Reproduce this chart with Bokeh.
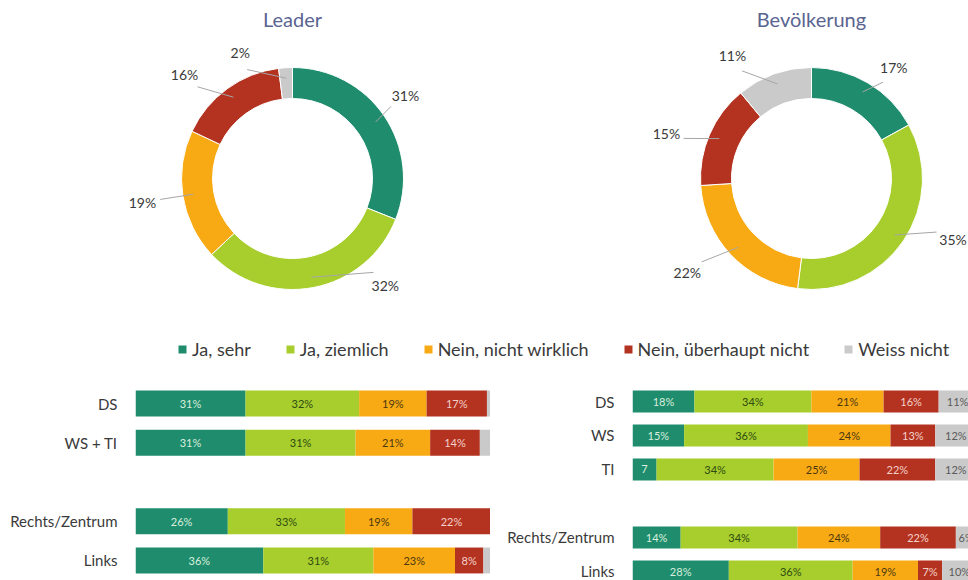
import math
from bokeh.plotting import figure
from bokeh.layouts import column, row
from bokeh.models import Range1d, ColumnDataSource, Legend, LegendItem, FixedTicker
from bokeh.core.properties import value
from bokeh.embed import file_html
from bokeh.resources import INLINE

# ---------------- data ----------------
series = ["Ja, sehr", "Ja, ziemlich", "Nein, nicht wirklich", "Nein, überhaupt nicht", "Weiss nicht"]

leader_donut = [31, 32, 19, 16, 2]
bev_donut = [17, 35, 22, 15, 11]

left_cats = ["DS", "WS + TI", "Rechts/Zentrum", "Links"]
left_ja_sehr = [31, 31, 26, 36]
left_ja_ziemlich = [32, 31, 33, 31]
left_nein_nicht = [19, 21, 19, 23]
left_nein_ueberhaupt = [17, 14, 22, 8]
left_weiss_nicht = [1, 3, 0, 2]

right_cats = ["DS", "WS", "TI", "Rechts/Zentrum", "Links"]
right_ja_sehr = [18, 15, 7, 14, 28]
right_ja_ziemlich = [34, 36, 34, 34, 36]
right_nein_nicht = [21, 24, 25, 24, 19]
right_nein_ueberhaupt = [16, 13, 22, 22, 7]
right_weiss_nicht = [11, 12, 12, 6, 10]

# ---------------- style ----------------
FONT = "Lato"
colors = ["#1f8d6d", "#a7ce2c", "#f8aa14", "#b43320", "#cacaca"]
bar_text_colors = ["#d9eedd", "#2f4b12", "#4d3810", "#f3d0c9", "#5a5a5a"]
title_color = "#5a6490"
label_color = "#3a3a3a"

left_rows = [0, 1, 3, 4]
right_rows = [0, 1, 2, 4, 5]

R_IN, R_OUT = 80, 111
leader_nudge = [2, 30, 0, 10, 19]
bev_nudge = [-6, 11, -6, 6, 13]
leader_lab_r = [140, 142, 152, 150, 136]
bev_lab_r = [138, 154, 156, 152, 146]

DONUT_H = 330


def donut(values, title, width, cx_off, nudge, lab_r):
    h = DONUT_H
    cy_off = 178
    p = figure(width=width, height=h, output_backend="svg", toolbar_location=None,
               x_range=Range1d(-cx_off, width - cx_off), y_range=Range1d(-(h - cy_off), cy_off),
               x_axis_type=None, y_axis_type=None, min_border=0, outline_line_color=None)
    p.grid.visible = False
    total = float(sum(values))
    cum = 0.0
    starts, ends, mids = [], [], []
    for v in values:
        a0 = math.pi / 2 - 2 * math.pi * cum / total
        cum += v
        a1 = math.pi / 2 - 2 * math.pi * cum / total
        starts.append(a0)
        ends.append(a1)
        mids.append((a0 + a1) / 2)
    src = ColumnDataSource(dict(start=starts, end=ends, color=colors))
    p.annular_wedge(x=0, y=0, inner_radius=R_IN, outer_radius=R_OUT, start_angle="start",
                    end_angle="end", direction="clock", fill_color="color",
                    line_color="white", line_width=1, source=src)
    lx, ly, x0, y0, x1, y1, txt = [], [], [], [], [], [], []
    for m, v, nd, rl in zip(mids, values, nudge, lab_r):
        la = m + math.radians(nd)
        lx.append(rl * math.cos(la))
        ly.append(rl * math.sin(la))
        rm = (R_IN + R_OUT) / 2 + 5
        x0.append(rm * math.cos(m))
        y0.append(rm * math.sin(m))
        re = rl - 18
        x1.append(re * math.cos(la))
        y1.append(re * math.sin(la))
        txt.append(f"{v}%")
    p.segment(x0=x0, y0=y0, x1=x1, y1=y1, line_color="#a6a6a6", line_width=1)
    p.text(x=lx, y=ly, text=txt, text_align="center", text_baseline="middle",
           text_font=value(FONT), text_font_size="14px", text_color=label_color)
    p.text(x=[0], y=[cy_off - 18], text=[title], text_align="center", text_baseline="middle",
           text_font=value(FONT), text_font_size="20px", text_color=title_color)
    return p


def bars(cats, rows, vals, width, border_left, xmax, yr, bar_h, hide):
    p = figure(width=width, height=208, output_backend="svg", toolbar_location=None,
               x_range=Range1d(0, xmax), y_range=Range1d(*yr), x_axis_type=None,
               min_border_left=border_left, min_border_right=0, min_border_top=0,
               min_border_bottom=0, outline_line_color=None)
    p.grid.visible = False
    ax = p.yaxis[0]
    ax.ticker = FixedTicker(ticks=rows)
    ax.major_label_overrides = {r: c for r, c in zip(rows, cats)}
    ax.axis_line_color = None
    ax.major_tick_line_color = None
    ax.minor_tick_line_color = None
    ax.major_label_standoff = 12
    ax.major_label_text_font = FONT
    ax.major_label_text_font_size = "15px"
    ax.major_label_text_color = label_color
    cum = [0.0] * len(cats)
    for si, sv in enumerate(vals):
        left = list(cum)
        right = [a + b for a, b in zip(cum, sv)]
        p.hbar(y=rows, left=left, right=right, height=bar_h, fill_color=colors[si],
               line_color=None)
        tx, ty, tt = [], [], []
        for ci, v in enumerate(sv):
            if v >= 5:
                tx.append(left[ci] + v / 2)
                ty.append(rows[ci])
                tt.append(f"{v}" if (ci, si) in hide else f"{v}%")
        p.text(x=tx, y=ty, text=tt, text_align="center", text_baseline="middle",
               text_font=value(FONT), text_font_size="11px", text_color=bar_text_colors[si])
        cum = right
    return p


d1 = donut(leader_donut, "Leader", 550, 292, leader_nudge, leader_lab_r)
d2 = donut(bev_donut, "Bevölkerung", 418, 261, bev_nudge, bev_lab_r)

# legend strip
pl = figure(width=968, height=42, output_backend="svg", toolbar_location=None,
            x_range=Range1d(0, 1), y_range=Range1d(0, 1), x_axis_type=None, y_axis_type=None,
            min_border=0, outline_line_color=None)
pl.grid.visible = False
items = []
for s, c in zip(series, colors):
    r = pl.rect(x=[-5], y=[-5], width=0.1, height=0.1, fill_color=c, line_color=None)
    items.append(LegendItem(label=s, renderers=[r]))
leg = Legend(items=items, orientation="horizontal", location=(177, 12), margin=0, padding=0,
             spacing=34, glyph_width=10, glyph_height=10, label_standoff=5, label_height=18,
             label_text_font=FONT, label_text_font_size="18px", label_text_color=label_color,
             border_line_color=None, background_fill_alpha=0)
pl.add_layout(leg, "center")

b1 = bars(left_cats, left_rows,
          [left_ja_sehr, left_ja_ziemlich, left_nein_nicht, left_nein_ueberhaupt, left_weiss_nicht],
          490, 135, 100, (4.51, -0.79), 0.66, set())
b2 = bars(right_cats, right_rows,
          [right_ja_sehr, right_ja_ziemlich, right_nein_nicht, right_nein_ueberhaupt, right_weiss_nicht],
          478, 142, 336 / 3.44, (5.265, -0.853), 0.647, {(2, 0)})

layout = column(row(d1, d2, spacing=0), pl, row(b1, b2, spacing=0), spacing=0)
open("out.html", "w").write(file_html(layout, INLINE))
